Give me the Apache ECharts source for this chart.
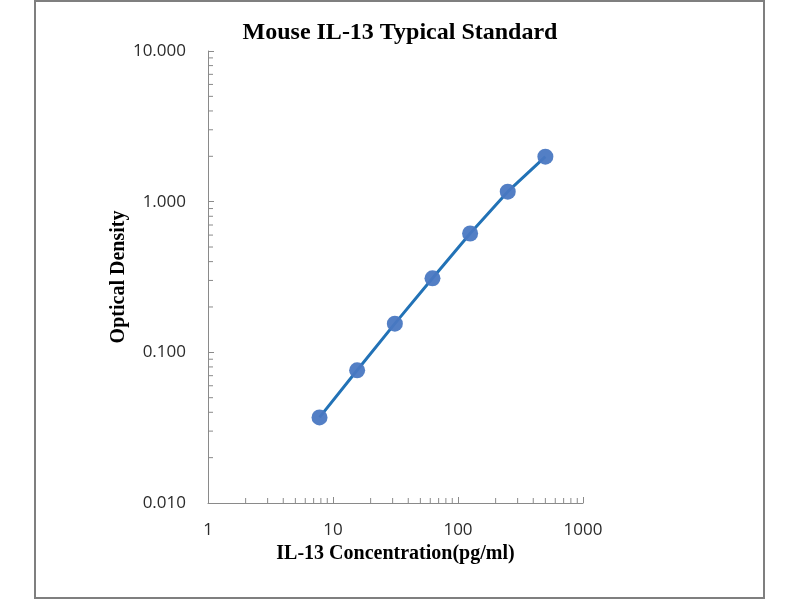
<!DOCTYPE html>
<html lang="en">
<head>
    <meta charset="UTF-8">
    <title>Mouse IL-13 Typical Standard</title>
    <style>
        html, body { margin: 0; padding: 0; background: #fff; }
        #chart { width: 800px; height: 600px; }
    </style>
</head>
<body>
<div id="chart"></div>
<script src="https://cdn.jsdelivr.net/npm/echarts@6/dist/echarts.min.js"></script>
<script type="text/javascript">
    // standard curve points (concentration pg/ml, OD)
    var concentration = [7.8, 15.6, 31.25, 62.5, 125, 250, 500];
    var opticalDensity = [0.037, 0.076, 0.155, 0.31, 0.615, 1.165, 1.99];

    // minor tick positions on the log axes (2..9 in each decade)
    var xMinorTicks = [];
    var yMinorTicks = [];
    [1, 10, 100].forEach(function (d) {
        for (var k = 2; k <= 9; k++) xMinorTicks.push(k * d);
    });
    [0.01, 0.1, 1].forEach(function (d) {
        for (var k = 2; k <= 9; k++) yMinorTicks.push(+(k * d).toFixed(4));
    });

    var serif = '"Liberation Serif", "Times New Roman", serif';
    var sans = '"Open Sans", "Liberation Sans", sans-serif';
    var axisGray = '#8a8a8a';

    var points = concentration.map(function (c, i) { return [c, opticalDensity[i]]; });

    var myChart = echarts.init(document.getElementById('chart'));

    var option = {
        backgroundColor: '#fff',
        animation: false,
        title: {
            text: 'Mouse IL-13 Typical Standard',
            left: 'center',
            top: 16,
            textStyle: {
                fontFamily: serif,
                fontWeight: 'bold',
                fontSize: 24,
                color: '#000'
            }
        },
        graphic: [{
            type: 'rect',
            shape: { x: 35, y: 1, width: 729, height: 597 },
            style: { fill: 'none', stroke: '#7f7f7f', lineWidth: 2 },
            z: 100
        }],
        grid: {
            left: 208,
            right: 217,
            top: 51,
            bottom: 97
        },
        xAxis: {
            type: 'log',
            logBase: 10,
            min: 1,
            max: 1000,
            name: 'IL-13 Concentration(pg/ml)',
            nameLocation: 'middle',
            nameGap: 41,
            nameTextStyle: {
                fontFamily: serif,
                fontWeight: 'bold',
                fontSize: 20,
                color: '#000'
            },
            axisLine: { lineStyle: { color: axisGray, width: 1 } },
            axisTick: { show: true, inside: true, length: 6, lineStyle: { color: axisGray } },
            axisLabel: {
                margin: 19,
                fontFamily: sans,
                fontSize: 17,
                color: '#2b2b2b',
                formatter: function (v) { return String(Math.round(v)); }
            },
            splitLine: { show: false }
        },
        yAxis: {
            type: 'log',
            logBase: 10,
            min: 0.01,
            max: 10,
            name: 'Optical Density',
            nameLocation: 'middle',
            nameGap: 73,
            nameTextStyle: {
                fontFamily: serif,
                fontWeight: 'bold',
                fontSize: 20,
                color: '#000'
            },
            axisLine: { show: true, lineStyle: { color: axisGray, width: 1 } },
            axisTick: { show: true, inside: true, length: 6, lineStyle: { color: axisGray } },
            axisLabel: {
                margin: 22,
                fontFamily: sans,
                fontSize: 17,
                color: '#2b2b2b',
                formatter: function (v) { return v.toFixed(3); }
            },
            splitLine: { show: false }
        },
        series: [
            {
                // minor ticks along the x axis
                type: 'custom',
                silent: true,
                clip: false,
                data: xMinorTicks,
                renderItem: function (params, api) {
                    var p = api.coord([api.value(0), 0.01]);
                    return {
                        type: 'line',
                        shape: { x1: p[0], y1: p[1], x2: p[0], y2: p[1] - 5 },
                        style: { stroke: axisGray, lineWidth: 1 }
                    };
                },
                encode: { x: 0 }
            },
            {
                // minor ticks along the y axis
                type: 'custom',
                silent: true,
                clip: false,
                data: yMinorTicks,
                renderItem: function (params, api) {
                    var p = api.coord([1, api.value(0)]);
                    return {
                        type: 'line',
                        shape: { x1: p[0], y1: p[1], x2: p[0] + 5, y2: p[1] },
                        style: { stroke: axisGray, lineWidth: 1 }
                    };
                },
                encode: { y: 0 }
            },
            {
                type: 'line',
                data: points,
                symbol: 'circle',
                symbolSize: 16,
                lineStyle: { color: '#2272b6', width: 3 },
                itemStyle: { color: '#4a78c2', opacity: 0.95 },
                z: 5
            }
        ]
    };
    myChart.setOption(option);
</script>
</body>
</html>
